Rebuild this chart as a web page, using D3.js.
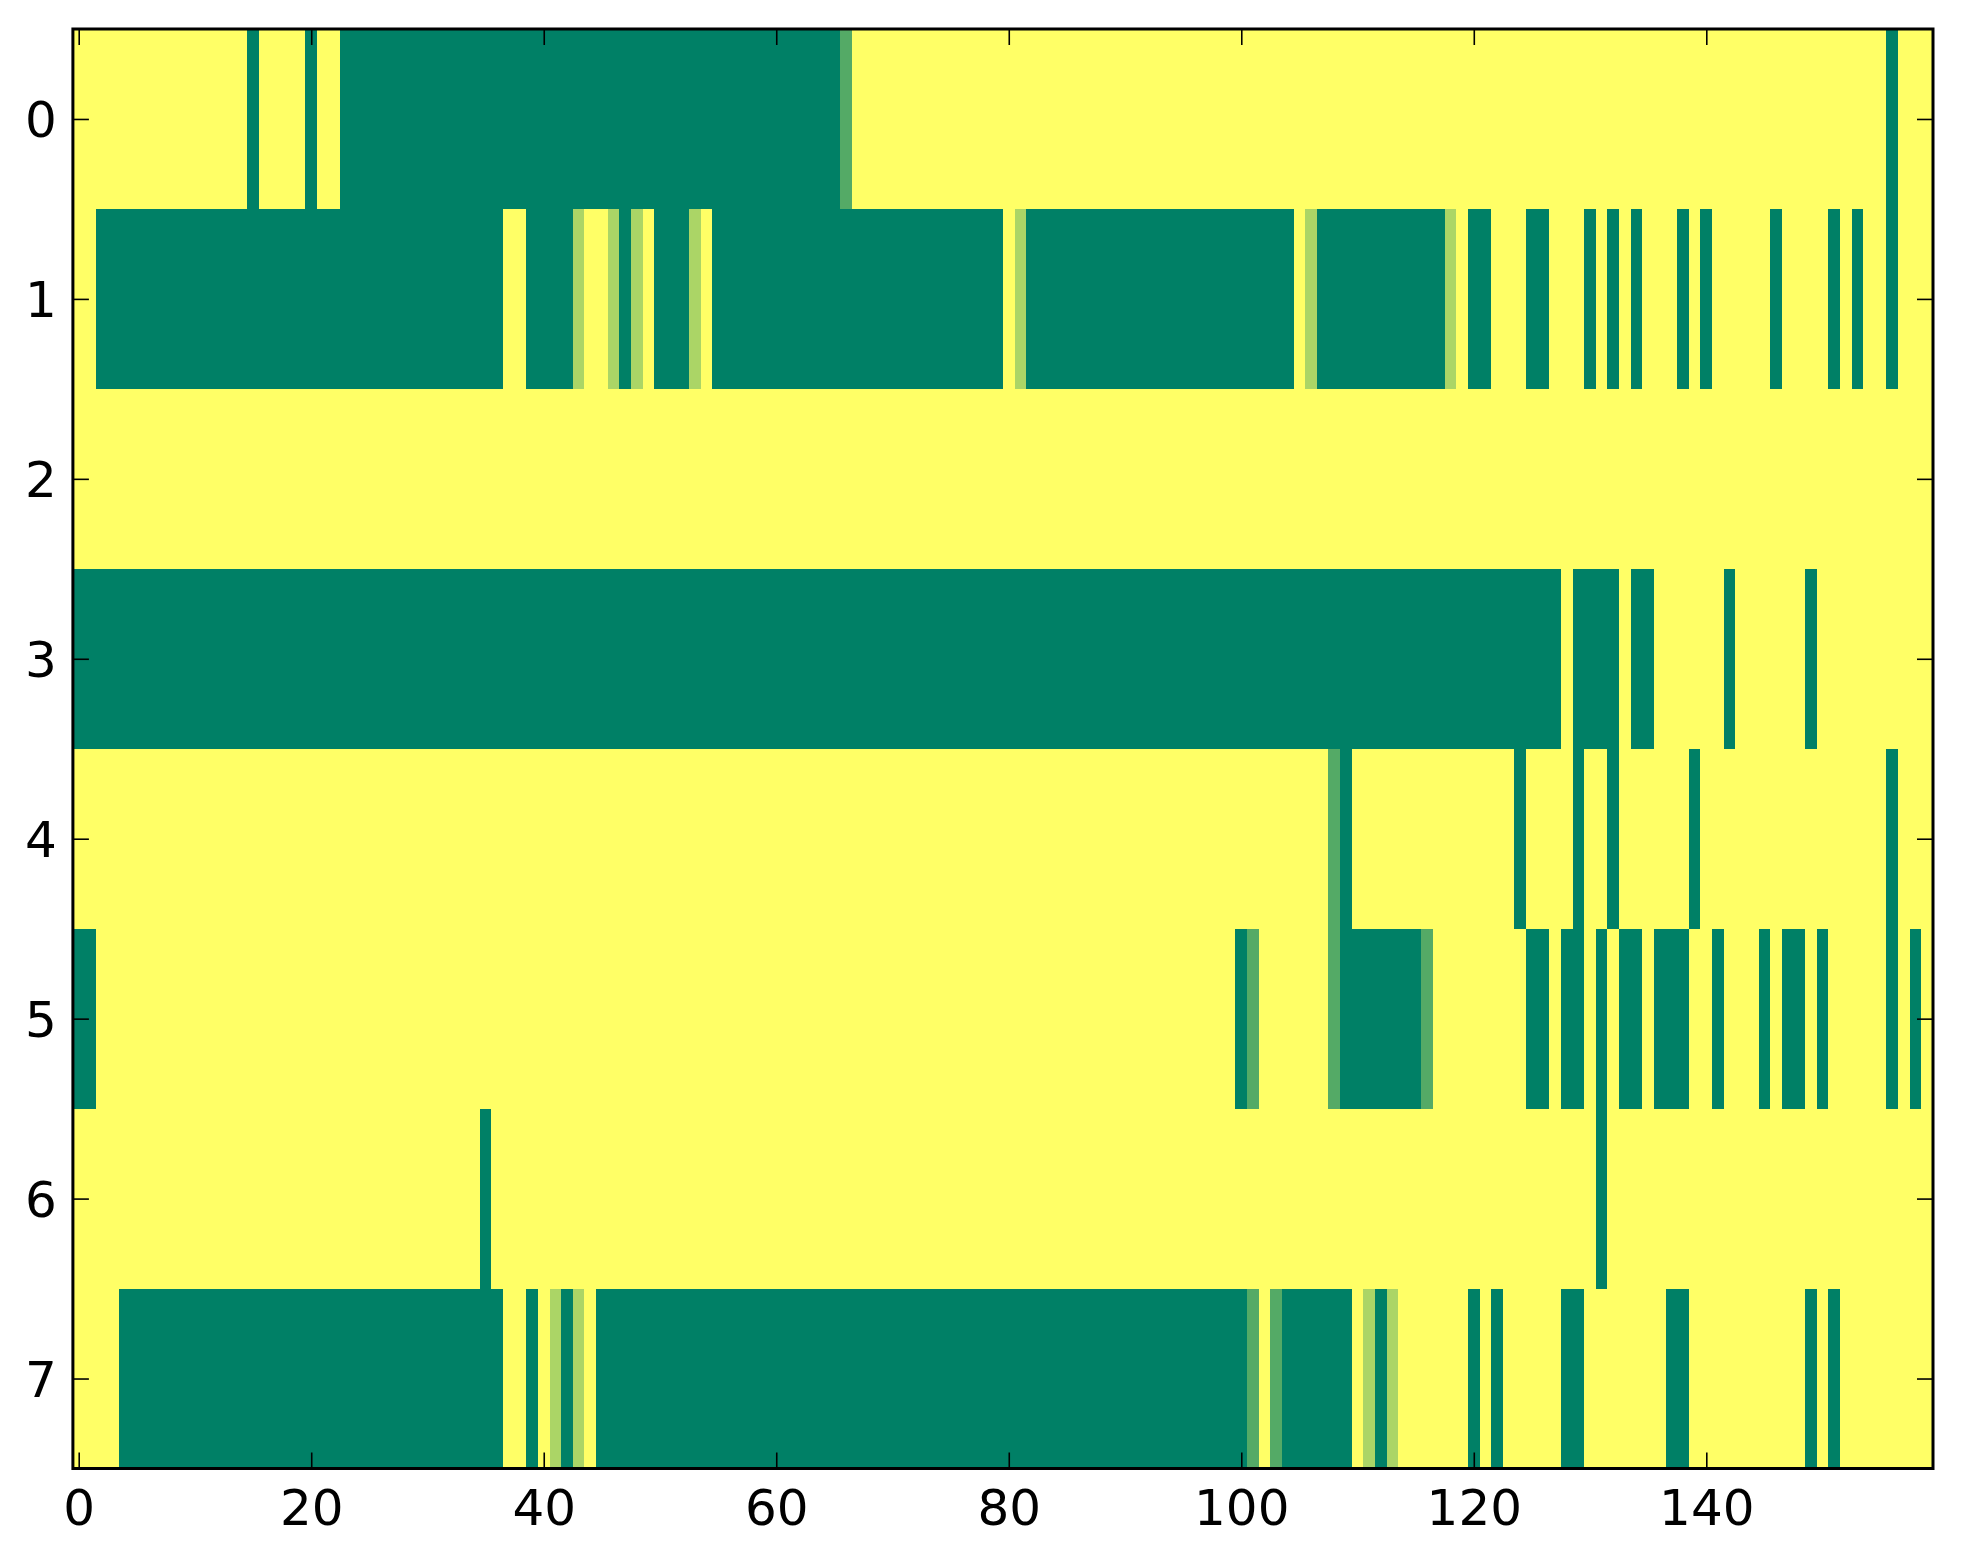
<!DOCTYPE html>
<html>
<head>
<meta charset="utf-8">
<script src="https://cdn.jsdelivr.net/npm/d3@7"></script>
<style>
  html, body { margin: 0; padding: 0; background: #fff; }
  svg { display: block; }
  .tick text { font-family: "DejaVu Sans", sans-serif; font-size: 50px; fill: #000; }
</style>
</head>
<body>
<div id="chart"></div>
<script>
// Cell values per row (0 = dark green, 1 = yellow)
const row0 = [
  1,1,1,1,1,1,1,1,1,1,1,1,1,1,1,0,1,1,1,1,
  0,1,1,0,0,0,0,0,0,0,0,0,0,0,0,0,0,0,0,0,
  0,0,0,0,0,0,0,0,0,0,0,0,0,0,0,0,0,0,0,0,
  0,0,0,0,0,0,.33,1,1,1,1,1,1,1,1,1,1,1,1,1,
  1,1,1,1,1,1,1,1,1,1,1,1,1,1,1,1,1,1,1,1,
  1,1,1,1,1,1,1,1,1,1,1,1,1,1,1,1,1,1,1,1,
  1,1,1,1,1,1,1,1,1,1,1,1,1,1,1,1,1,1,1,1,
  1,1,1,1,1,1,1,1,1,1,1,1,1,1,1,1,0,1,1,1
];
const row1 = [
  1,1,0,0,0,0,0,0,0,0,0,0,0,0,0,0,0,0,0,0,
  0,0,0,0,0,0,0,0,0,0,0,0,0,0,0,0,0,1,1,0,
  0,0,0,.67,1,1,.67,0,.67,1,0,0,0,.67,1,0,0,0,0,0,
  0,0,0,0,0,0,0,0,0,0,0,0,0,0,0,0,0,0,0,0,
  1,.67,0,0,0,0,0,0,0,0,0,0,0,0,0,0,0,0,0,0,
  0,0,0,0,0,1,.67,0,0,0,0,0,0,0,0,0,0,0,.67,1,
  0,0,1,1,1,0,0,1,1,1,0,1,0,1,0,1,1,1,0,1,
  0,1,1,1,1,1,0,1,1,1,1,0,1,0,1,1,0,1,1,1
];
const row2 = [
  1,1,1,1,1,1,1,1,1,1,1,1,1,1,1,1,1,1,1,1,
  1,1,1,1,1,1,1,1,1,1,1,1,1,1,1,1,1,1,1,1,
  1,1,1,1,1,1,1,1,1,1,1,1,1,1,1,1,1,1,1,1,
  1,1,1,1,1,1,1,1,1,1,1,1,1,1,1,1,1,1,1,1,
  1,1,1,1,1,1,1,1,1,1,1,1,1,1,1,1,1,1,1,1,
  1,1,1,1,1,1,1,1,1,1,1,1,1,1,1,1,1,1,1,1,
  1,1,1,1,1,1,1,1,1,1,1,1,1,1,1,1,1,1,1,1,
  1,1,1,1,1,1,1,1,1,1,1,1,1,1,1,1,1,1,1,1
];
const row3 = [
  0,0,0,0,0,0,0,0,0,0,0,0,0,0,0,0,0,0,0,0,
  0,0,0,0,0,0,0,0,0,0,0,0,0,0,0,0,0,0,0,0,
  0,0,0,0,0,0,0,0,0,0,0,0,0,0,0,0,0,0,0,0,
  0,0,0,0,0,0,0,0,0,0,0,0,0,0,0,0,0,0,0,0,
  0,0,0,0,0,0,0,0,0,0,0,0,0,0,0,0,0,0,0,0,
  0,0,0,0,0,0,0,0,0,0,0,0,0,0,0,0,0,0,0,0,
  0,0,0,0,0,0,0,0,1,0,0,0,0,1,0,0,1,1,1,1,
  1,1,0,1,1,1,1,1,1,0,1,1,1,1,1,1,1,1,1,1
];
const row4 = [
  1,1,1,1,1,1,1,1,1,1,1,1,1,1,1,1,1,1,1,1,
  1,1,1,1,1,1,1,1,1,1,1,1,1,1,1,1,1,1,1,1,
  1,1,1,1,1,1,1,1,1,1,1,1,1,1,1,1,1,1,1,1,
  1,1,1,1,1,1,1,1,1,1,1,1,1,1,1,1,1,1,1,1,
  1,1,1,1,1,1,1,1,1,1,1,1,1,1,1,1,1,1,1,1,
  1,1,1,1,1,1,1,1,.33,0,1,1,1,1,1,1,1,1,1,1,
  1,1,1,1,0,1,1,1,1,0,1,1,0,1,1,1,1,1,1,0,
  1,1,1,1,1,1,1,1,1,1,1,1,1,1,1,1,0,1,1,1
];
const row5 = [
  0,0,1,1,1,1,1,1,1,1,1,1,1,1,1,1,1,1,1,1,
  1,1,1,1,1,1,1,1,1,1,1,1,1,1,1,1,1,1,1,1,
  1,1,1,1,1,1,1,1,1,1,1,1,1,1,1,1,1,1,1,1,
  1,1,1,1,1,1,1,1,1,1,1,1,1,1,1,1,1,1,1,1,
  1,1,1,1,1,1,1,1,1,1,1,1,1,1,1,1,1,1,1,1,
  0,.33,1,1,1,1,1,1,.33,0,0,0,0,0,0,0,.33,1,1,1,
  1,1,1,1,1,0,0,1,0,0,1,0,1,0,0,1,0,0,0,1,
  1,0,1,1,1,0,1,0,0,1,0,1,1,1,1,1,0,1,0,1
];
const row6 = [
  1,1,1,1,1,1,1,1,1,1,1,1,1,1,1,1,1,1,1,1,
  1,1,1,1,1,1,1,1,1,1,1,1,1,1,1,0,1,1,1,1,
  1,1,1,1,1,1,1,1,1,1,1,1,1,1,1,1,1,1,1,1,
  1,1,1,1,1,1,1,1,1,1,1,1,1,1,1,1,1,1,1,1,
  1,1,1,1,1,1,1,1,1,1,1,1,1,1,1,1,1,1,1,1,
  1,1,1,1,1,1,1,1,1,1,1,1,1,1,1,1,1,1,1,1,
  1,1,1,1,1,1,1,1,1,1,1,0,1,1,1,1,1,1,1,1,
  1,1,1,1,1,1,1,1,1,1,1,1,1,1,1,1,1,1,1,1
];
const row7 = [
  1,1,1,1,0,0,0,0,0,0,0,0,0,0,0,0,0,0,0,0,
  0,0,0,0,0,0,0,0,0,0,0,0,0,0,0,0,0,1,1,0,
  1,.67,0,.67,1,0,0,0,0,0,0,0,0,0,0,0,0,0,0,0,
  0,0,0,0,0,0,0,0,0,0,0,0,0,0,0,0,0,0,0,0,
  0,0,0,0,0,0,0,0,0,0,0,0,0,0,0,0,0,0,0,0,
  0,.33,1,.33,0,0,0,0,0,0,1,.67,0,.67,1,1,1,1,1,1,
  0,1,0,1,1,1,1,1,0,0,1,1,1,1,1,1,1,0,0,1,
  1,1,1,1,1,1,1,1,1,0,1,0,1,1,1,1,1,1,1,1
];

const rows = [row0, row1, row2, row3, row4, row5, row6, row7];
const xTickValues = [0, 20, 40, 60, 80, 100, 120, 140];
const yTickValues = [0, 1, 2, 3, 4, 5, 6, 7];

const WIDTH = 1963;
const HEIGHT = 1564;
const PLOT = { left: 72.9, right: 1933, top: 29, bottom: 1468.5 };

const nCols = row0.length;

const svg = d3.select('#chart').append('svg')
  .attr('width', WIDTH)
  .attr('height', HEIGHT);

svg.append('rect')
  .attr('width', WIDTH).attr('height', HEIGHT)
  .attr('fill', '#fff');

const x = d3.scaleLinear().domain([-0.5, nCols - 0.5]).range([PLOT.left, PLOT.right]);
const y = d3.scaleLinear().domain([-0.5, rows.length - 0.5]).range([PLOT.top, PLOT.bottom]);

// "summer" colormap: linear from green to yellow
const color = d3.scaleLinear().domain([0, 1]).range(['#008066', '#ffff66']);

const cells = rows.flatMap((r, ri) => r.map((v, ci) => ({ row: ri, col: ci, value: v })));

svg.append('g')
  .attr('class', 'cells')
  .selectAll('rect')
  .data(cells)
  .join('rect')
  .attr('x', d => x(d.col - 0.5))
  .attr('y', d => y(d.row - 0.5))
  .attr('width', d => x(d.col + 0.5) - x(d.col - 0.5) + 0.6)
  .attr('height', d => y(d.row + 0.5) - y(d.row - 0.5) + 0.6)
  .attr('fill', d => color(d.value))
  .attr('shape-rendering', 'crispEdges');

// Inward ticks on all four sides
const TICK = 16;

const xBottom = svg.append('g')
  .attr('transform', `translate(0,${PLOT.bottom})`)
  .call(d3.axisBottom(x).tickValues(xTickValues).tickSize(-TICK).tickPadding(21));
const xTop = svg.append('g')
  .attr('transform', `translate(0,${PLOT.top})`)
  .call(d3.axisTop(x).tickValues(xTickValues).tickSize(-TICK).tickFormat(''));
const yLeft = svg.append('g')
  .attr('transform', `translate(${PLOT.left},0)`)
  .call(d3.axisLeft(y).tickValues(yTickValues).tickSize(-TICK).tickPadding(16));
const yRight = svg.append('g')
  .attr('transform', `translate(${PLOT.right},0)`)
  .call(d3.axisRight(y).tickValues(yTickValues).tickSize(-TICK).tickFormat(''));

[xBottom, xTop, yLeft, yRight].forEach(g => {
  g.select('.domain').remove();
  g.attr('font-family', null).attr('font-size', null);
  g.selectAll('.tick line').attr('stroke', '#000').attr('stroke-width', 1.6);
});
yLeft.selectAll('.tick text').attr('dy', '0.36em');

// Frame
svg.append('rect')
  .attr('x', PLOT.left)
  .attr('y', PLOT.top)
  .attr('width', PLOT.right - PLOT.left)
  .attr('height', PLOT.bottom - PLOT.top)
  .attr('fill', 'none')
  .attr('stroke', '#000')
  .attr('stroke-width', 3);
</script>
</body>
</html>
